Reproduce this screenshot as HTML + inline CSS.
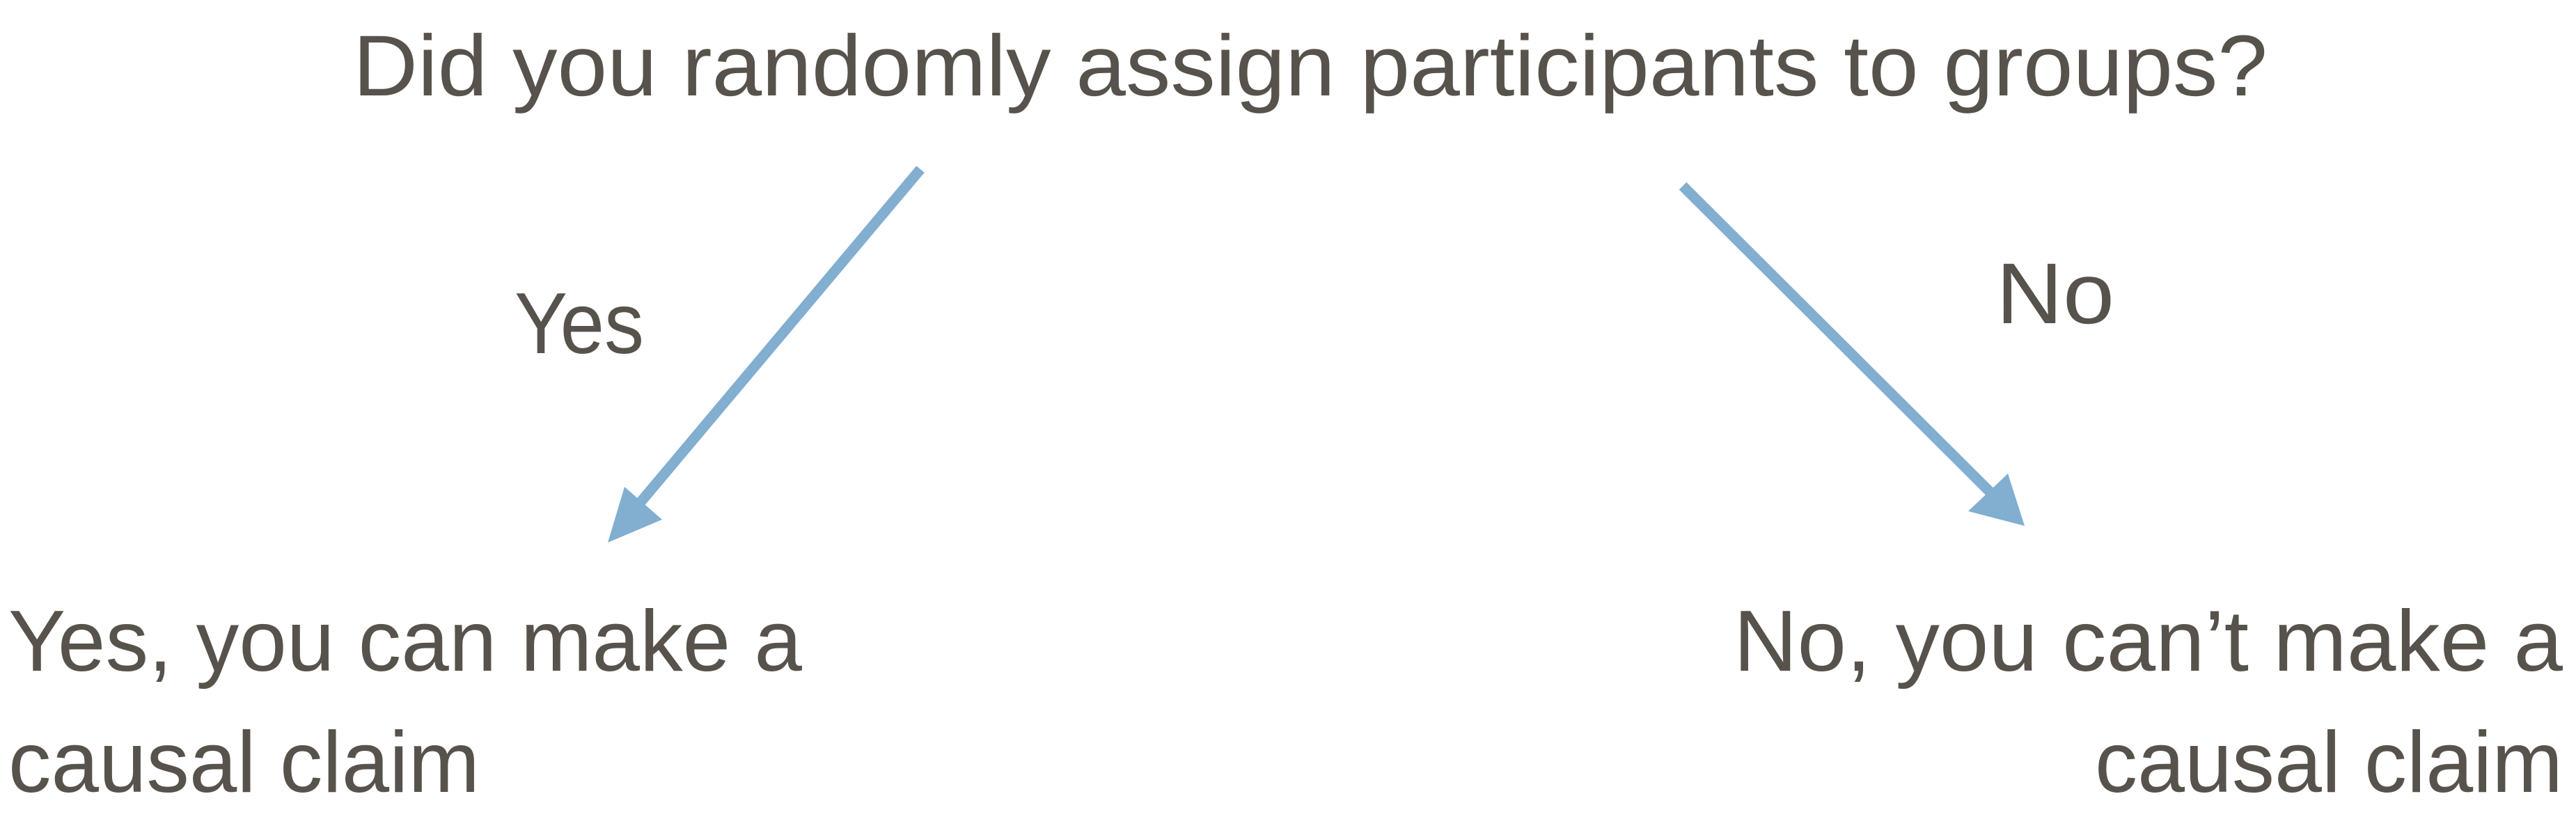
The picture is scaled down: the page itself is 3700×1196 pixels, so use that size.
<!DOCTYPE html>
<html><head><style>html,body{margin:0;padding:0;background:#fff}svg{display:block}</style></head><body>
<svg width="3700" height="1196" viewBox="0 0 3700 1196" xmlns="http://www.w3.org/2000/svg">
<g font-family="Liberation Sans, sans-serif" font-size="124" fill="#57524c">
<text x="507" y="137" textLength="2750" lengthAdjust="spacingAndGlyphs">Did you randomly assign participants to groups?</text>
<text x="739" y="507" textLength="186" lengthAdjust="spacingAndGlyphs">Yes</text>
<text x="2867" y="464" textLength="170" lengthAdjust="spacingAndGlyphs">No</text>
<text x="12" y="963" textLength="1140" lengthAdjust="spacingAndGlyphs">Yes, you can make a</text>
<text x="12" y="1137" textLength="677" lengthAdjust="spacingAndGlyphs">causal claim</text>
<text x="2490" y="963" textLength="1191" lengthAdjust="spacingAndGlyphs">No, you can’t make a</text>
<text x="3009" y="1137" textLength="672" lengthAdjust="spacingAndGlyphs">causal claim</text>
</g>
<g stroke="#82aed0" stroke-width="15" fill="#82aed0">
<line x1="1322" y1="243" x2="915" y2="727"/>
<line x1="2417" y1="267" x2="2865" y2="713"/>
</g>
<g fill="#82aed0">
<polygon points="873,779 897,699 951,746"/>
<polygon points="2908,755 2827,734 2884,680"/>
</g>
</svg>
</body></html>
